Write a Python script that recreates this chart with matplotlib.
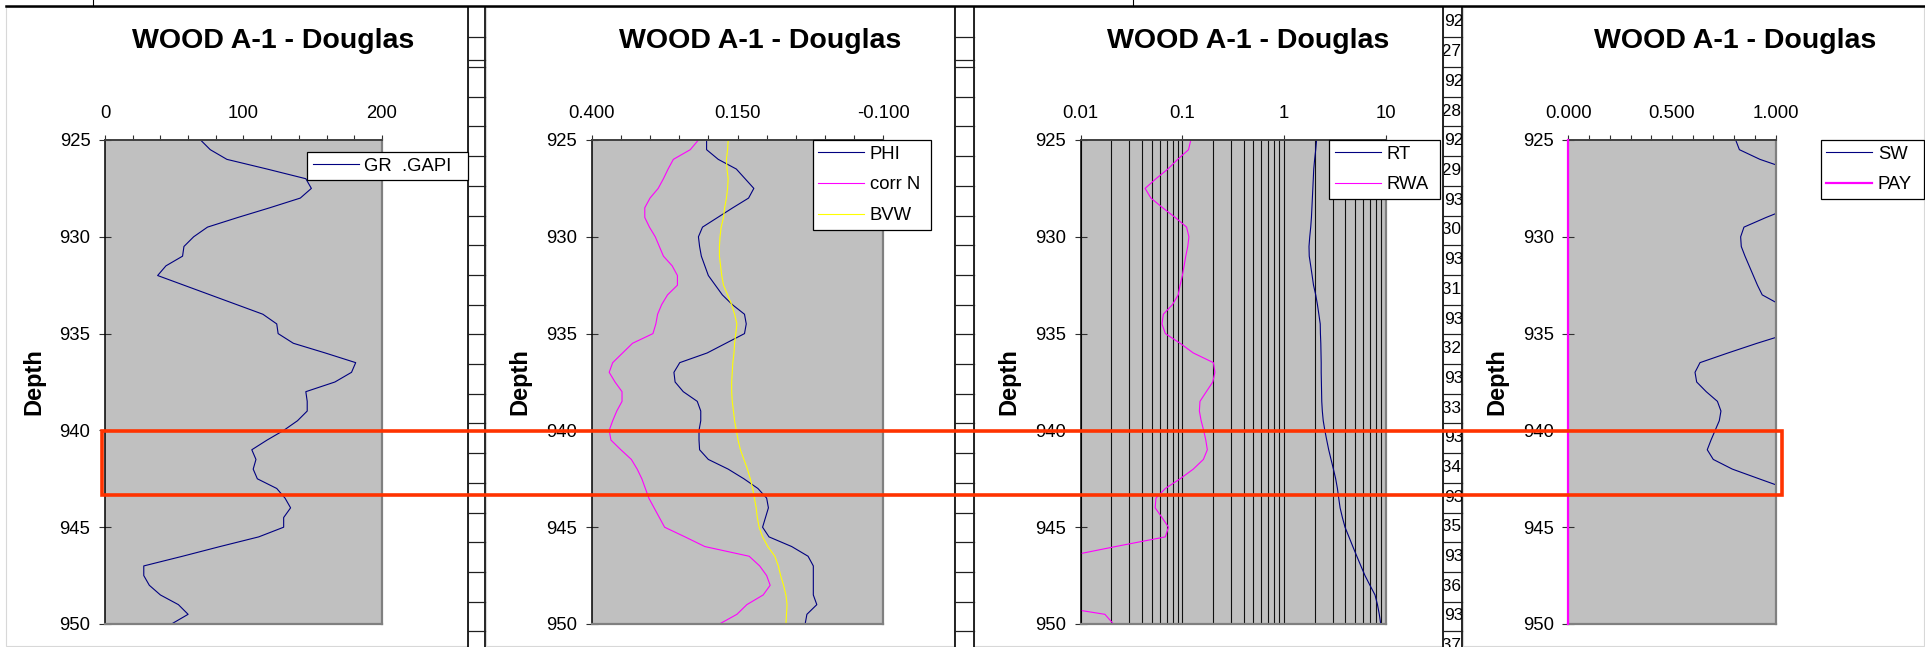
import numpy as np
import matplotlib.pyplot as plt
from matplotlib.patches import Rectangle
from matplotlib.ticker import FixedLocator, MultipleLocator, FormatStrFormatter, FixedFormatter

plt.rcParams['font.family'] = ['Liberation Sans', 'DejaVu Sans']
plt.rcParams['axes.unicode_minus'] = False

# depth samples, 0.5 ft
depth = np.arange(925.0, 950.01, 0.5)

gr = [69, 76, 88, 117, 145, 149, 141, 119, 96, 74, 64, 57, 56, 44, 38, 57, 76, 95, 114, 124,
      125, 136, 159, 181, 178, 166, 145, 146, 146, 139, 129, 117, 106, 109, 107, 110, 124, 130,
      134, 129, 129, 111, 83, 56, 28, 28, 32, 40, 53, 60, 48]

phi = [0.203, 0.203, 0.183, 0.152, 0.137, 0.122, 0.131, 0.158, 0.184, 0.210,
       0.217, 0.215, 0.212, 0.206, 0.200, 0.188, 0.176, 0.159, 0.138, 0.135,
       0.138, 0.170, 0.202, 0.249, 0.259, 0.257, 0.243, 0.219, 0.213, 0.213,
       0.216, 0.216, 0.215, 0.200, 0.166, 0.139, 0.115, 0.100, 0.097, 0.102,
       0.107, 0.096, 0.057, 0.029, 0.020, 0.020, 0.020, 0.020, 0.014, 0.031, 0.034]

corr_n = [0.217, 0.231, 0.260, 0.269, 0.277, 0.286, 0.300, 0.309, 0.309, 0.301,
          0.291, 0.284, 0.277, 0.262, 0.253, 0.253, 0.270, 0.280, 0.287, 0.290,
          0.295, 0.330, 0.347, 0.364, 0.370, 0.360, 0.348, 0.348, 0.357, 0.364,
          0.370, 0.367, 0.350, 0.332, 0.322, 0.314, 0.308, 0.302, 0.293, 0.284,
          0.275, 0.240, 0.206, 0.130, 0.112, 0.100, 0.094, 0.106, 0.134, 0.151, 0.181]

bvw = [0.166, 0.167, 0.169, 0.168, 0.166, 0.167, 0.169, 0.172, 0.174, 0.178,
       0.180, 0.181, 0.181, 0.179, 0.177, 0.174, 0.167, 0.160, 0.155, 0.151,
       0.153, 0.155, 0.156, 0.158, 0.159, 0.160, 0.160, 0.159, 0.157, 0.155,
       0.152, 0.149, 0.145, 0.139, 0.133, 0.128, 0.124, 0.121, 0.118, 0.116,
       0.113, 0.107, 0.098, 0.086, 0.080, 0.076, 0.071, 0.067, 0.065, 0.066, 0.067]

rt = [2.09, 2.05, 2.00, 1.96, 1.94, 1.92, 1.90, 1.88, 1.86, 1.83,
      1.79, 1.76, 1.77, 1.83, 1.89, 1.95, 2.05, 2.13, 2.20, 2.27,
      2.28, 2.30, 2.31, 2.32, 2.32, 2.33, 2.34, 2.35, 2.38, 2.43,
      2.52, 2.63, 2.75, 2.90, 3.06, 3.22, 3.35, 3.45, 3.56, 3.75,
      3.98, 4.35, 4.75, 5.20, 5.70, 6.26, 7.00, 7.85, 8.30, 8.65, 8.93]

rwa = [0.121, 0.115, 0.090, 0.072, 0.055, 0.043, 0.049, 0.064, 0.085, 0.110,
       0.116, 0.113, 0.108, 0.104, 0.100, 0.095, 0.091, 0.080, 0.065, 0.063,
       0.068, 0.095, 0.128, 0.202, 0.209, 0.199, 0.172, 0.149, 0.147, 0.153,
       0.162, 0.170, 0.176, 0.161, 0.128, 0.095, 0.068, 0.055, 0.054, 0.063,
       0.073, 0.068, 0.022, 0.0074, 0.003, 0.003, 0.003, 0.003, 0.0044, 0.0173, 0.021]

sw = [0.807, 0.825, 0.924, 1.06, 1.10, 1.12, 1.12, 1.07, 0.954, 0.847,
      0.831, 0.834, 0.852, 0.872, 0.892, 0.912, 0.935, 1.02, 1.08, 1.10,
      1.06, 0.91, 0.77, 0.635, 0.611, 0.619, 0.665, 0.719, 0.736, 0.728,
      0.708, 0.688, 0.670, 0.699, 0.791, 0.92, 1.05, 1.10, 1.12, 1.14,
      1.15, 1.16, 1.15, 1.14, 1.15, 1.16, 1.17, 1.16, 1.15, 1.14, 1.13]

pay = [0.0] * 51

# spreadsheet cell text peeking out between charts 3 and 4
cell_numbers = ['927', '928', '929', '930', '931', '932', '933', '934', '935', '936', '937']

title = 'WOOD A-1 - Douglas'
NAVY, MAG, YEL = '#000080', '#FF00FF', '#FFFF00'

W, H = 1925, 647
fig = plt.figure(figsize=(W / 100, H / 100), dpi=100)


def px_axes(x0, y0, x1, y1, **kw):
    return fig.add_axes([x0 / W, 1 - y1 / H, (x1 - x0) / W, (y1 - y0) / H], **kw)


# background sheet: chart areas, cell columns
bg = px_axes(0, 0, W, H)
bg.set_xlim(0, W)
bg.set_ylim(H, 0)
bg.axis('off')
bg.plot([6, W], [6, 6], color='black', lw=1.8)
for xv in [93, 1133]:
    bg.plot([xv, xv], [0, 6], color='black', lw=0.8)
for cx0, cx1 in [(6, 468), (486, 954), (974, 1443), (1463, 1924)]:
    bg.add_patch(Rectangle((cx0, 7), cx1 - cx0, 639, facecolor='white', edgecolor='#D8D8D8', lw=0.8))
rows = [37.3 + 29.7 * k for k in range(21)]
for cx0, cx1, extra in [(468, 485, True), (955, 974, True), (1443, 1462, False)]:
    bg.plot([cx0, cx0], [7, H], color='black', lw=1.2)
    bg.plot([cx1, cx1], [7, H], color='black', lw=1.2)
    ys = rows + ([59.5] if extra else [])
    for yv in ys:
        bg.plot([cx0, cx1], [yv, yv], color='#202020', lw=0.9)

cell = px_axes(1443.5, 7, 1462, H)
cell.set_xlim(1443.5, 1462)
cell.set_ylim(H, 7)
cell.axis('off')
for i, num in enumerate(cell_numbers):
    y_top = 7 + 29.7 * (2 * i)
    cell.text(1444.5, y_top + 15, num, ha='left', va='center', fontsize=12.5, clip_on=True)
    cell.text(1461.5, y_top + 44.7, num, ha='right', va='center', fontsize=12.5, clip_on=True)


def style(ax, width_px):
    ax.set_facecolor('#C0C0C0')
    ax.set_ylim(950, 925)
    ax.set_yticks([925, 930, 935, 940, 945, 950])
    ax.xaxis.tick_top()
    ax.tick_params(axis='x', which='both', direction='out', length=3.6, width=0.8,
                   color='#303030', labelsize=13.3, pad=9.0)
    ax.tick_params(axis='y', direction='inout', length=8.6, width=0.8,
                   color='#303030', labelsize=13.3, pad=6.2)
    ax.spines['left'].set_color('black')
    ax.spines['left'].set_linewidth(1.1)
    ax.spines['top'].set_color('#404040')
    ax.spines['top'].set_linewidth(1.4)
    for s in ['right', 'bottom']:
        ax.spines[s].set_color('#808080')
        ax.spines[s].set_linewidth(1.6)
    ax.set_ylabel('Depth', fontsize=17, fontweight='bold')
    ax.yaxis.set_label_coords(-60 / width_px, 0.5)


def legend(ax, left_px, right_px, top_px):
    leg = ax.legend(loc='upper left',
                    bbox_to_anchor=(left_px / W, 1 - top_px / H, (right_px - left_px) / W, 0),
                    bbox_transform=fig.transFigure, mode='expand', fontsize=13.3,
                    frameon=True, fancybox=False, framealpha=1, edgecolor='black',
                    borderpad=0.3, handlelength=2.5, handletextpad=0.3,
                    labelspacing=0.75, borderaxespad=0)
    leg.get_frame().set_linewidth(0.9)
    leg.set_zorder(10)


# panel 1: gamma ray
ax1 = px_axes(105, 140, 382, 624)
ax1.plot(gr, depth, color=NAVY, lw=0.8, label='GR  .GAPI')
ax1.set_xlim(0, 200)
ax1.xaxis.set_major_locator(FixedLocator([0, 100, 200]))
ax1.xaxis.set_minor_locator(MultipleLocator(20))
style(ax1, 277)
legend(ax1, 307, 468, 152)

# panel 2: porosity
ax2 = px_axes(591.7, 140, 883.3, 624)
ax2.plot(phi, depth, color=NAVY, lw=0.8, label='PHI')
ax2.plot(corr_n, depth, color=MAG, lw=0.8, label='corr N')
ax2.plot(bvw, depth, color=YEL, lw=0.8, label='BVW')
ax2.set_xlim(0.4, -0.1)
ax2.xaxis.set_major_locator(FixedLocator([0.4, 0.15, -0.1]))
ax2.xaxis.set_major_formatter(FormatStrFormatter('%.3f'))
ax2.xaxis.set_minor_locator(MultipleLocator(0.05))
style(ax2, 291.6)
legend(ax2, 812.7, 930.7, 140)

# panel 3: resistivity (log)
ax3 = px_axes(1080.7, 140, 1385.7, 624)
ax3.set_xscale('log')
ax3.plot(rt, depth, color=NAVY, lw=0.8, label='RT')
ax3.plot(rwa, depth, color=MAG, lw=0.8, label='RWA')
ax3.set_xlim(0.01, 10)
ax3.xaxis.set_major_locator(FixedLocator([0.01, 0.1, 1, 10]))
ax3.xaxis.set_major_formatter(FixedFormatter(['0.01', '0.1', '1', '10']))
ax3.xaxis.set_minor_locator(FixedLocator([m * d for d in [0.01, 0.1, 1] for m in range(2, 10)]))
ax3.set_axisbelow(True)
ax3.grid(which='both', axis='x', color='#101010', lw=0.8)
style(ax3, 305)
ax3.tick_params(axis='x', which='minor', length=0)
legend(ax3, 1329, 1440, 140)

# panel 4: water saturation
ax4 = px_axes(1568.3, 140, 1775.7, 624)
ax4.plot(sw, depth, color=NAVY, lw=0.8, label='SW')
ax4.plot(pay, depth, color=MAG, lw=1.6, label='PAY', clip_on=False, zorder=3)
ax4.set_xlim(0, 1)
ax4.xaxis.set_major_locator(FixedLocator([0, 0.5, 1]))
ax4.xaxis.set_major_formatter(FormatStrFormatter('%.3f'))
ax4.xaxis.set_minor_locator(MultipleLocator(0.1))
style(ax4, 207.4)
legend(ax4, 1820.7, 1924, 140)

# chart titles
for cx in [273.5, 759.7, 1248.5, 1735.3]:
    fig.text(cx / W, 1 - 48 / H, title, ha='center', va='baseline',
             fontsize=20.5, fontweight='bold')

# highlighted interval box on top of everything
top = px_axes(0, 0, W, H, zorder=20)
top.set_xlim(0, W)
top.set_ylim(H, 0)
top.axis('off')
top.patch.set_alpha(0)
top.add_patch(Rectangle((102, 431), 1781.7 - 102, 495 - 431, fill=False,
                        edgecolor='#FF3300', lw=2.6))

fig.savefig('out.png', dpi=100)
